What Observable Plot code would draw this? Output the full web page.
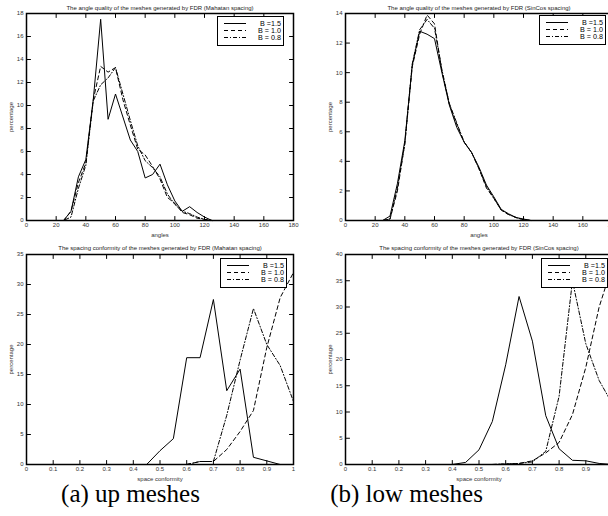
<!DOCTYPE html>
<html>
<head>
<meta charset="utf-8">
<script src="https://cdn.jsdelivr.net/npm/d3@7"></script>
<script src="https://cdn.jsdelivr.net/npm/@observablehq/plot@0.6"></script>
<style>
  html, body { margin: 0; padding: 0; background: white; }
  #wrap { position: relative; width: 608px; height: 516px; overflow: hidden; background: white; font-family: "Liberation Sans", Arial, sans-serif; }
  .panel { position: absolute; }
  .legend { position: absolute; background: white; border: 1.6px solid black; box-sizing: border-box; }
  .caption { position: absolute; font-family: "Liberation Serif", "DejaVu Serif", serif; font-size: 25px; line-height: 22px; white-space: nowrap; transform: translateX(-50%); }
</style>
</head>
<body>
<div id="wrap"></div>
<script>
// ---------- data ----------
const angleX = [20,25,30,35,40,45,50,55,60,65,70,75,80,85,90,95,100,105,110,115,120,125];

// (a) up meshes, angle quality (Mahatan spacing)
const upAngleB15 = [0,0,0.8,3.8,5.3,10.5,17.5,8.8,11.0,9.0,7.0,6.0,3.7,4.0,4.9,3.1,1.7,0.8,1.2,0.7,0.3,0];
const upAngleB10 = [0,0,0.8,3.3,5.0,10.5,13.4,12.9,13.3,10.5,8.3,6.2,5.7,4.7,3.6,2.0,1.5,0.7,0.5,0.2,0.1,0];
const upAngleB08 = [0,0,0.3,2.8,4.8,10.4,11.8,12.4,13.3,11.0,8.7,6.5,5.2,4.6,3.8,2.3,1.4,0.8,0.6,0.3,0.1,0];

// (b) low meshes, angle quality (SinCos spacing)
const lowAngleB15 = [0,0,0.3,2.5,5.4,10.5,12.8,12.6,12.3,10.0,7.8,6.3,5.3,4.6,3.6,2.4,1.6,0.75,0.45,0.2,0.1,0];
const lowAngleB10 = [0,0,0.1,2.0,5.2,10.4,12.6,13.9,13.3,10.1,7.9,6.5,5.3,4.6,3.5,2.2,1.5,0.7,0.4,0.2,0.05,0];
const lowAngleB08 = [0,0,0.1,2.2,5.2,10.6,12.9,13.6,13.0,10.2,7.9,6.6,5.3,4.6,3.5,2.3,1.5,0.7,0.4,0.2,0.05,0];

// (a) up meshes, spacing conformity (Mahatan spacing)
const upConfX15 = [0.45,0.5,0.55,0.6,0.65,0.7,0.75,0.8,0.85,0.9,0.95,1.0];
const upConfB15 = [0,2.3,4.3,17.8,17.8,27.5,12.3,15.9,1.2,0.6,0,0];
const upConfX = [0.6,0.65,0.7,0.75,0.8,0.85,0.9,0.95,1.0];
const upConfB10 = [0,0.5,0.5,2.5,5.5,9.0,19.5,27.8,32];
const upConfB08 = [0,0.5,0.5,8.2,17.4,26,20,16.5,10.5];

// (b) low meshes, spacing conformity (SinCos spacing)
const lowConfX15 = [0.4,0.45,0.5,0.55,0.6,0.65,0.7,0.75,0.8,0.85,0.9,0.95,1.0];
const lowConfB15 = [0,0.4,2.8,8.2,19,32,23.5,9.3,3.0,0.8,0.7,0.2,0];
const lowConfX = [0.55,0.6,0.65,0.7,0.75,0.8,0.85,0.9,0.95,1.0];
const lowConfB10 = [0,0.1,0.2,0.7,2.2,4.2,9.5,18.5,30,38];
const lowConfB08 = [0,0.1,0.2,0.5,2.5,13,35,23,16,11.5];

// ticks
const angleTicks = [0,20,40,60,80,100,120,140,160,180];
const confTicks = [0,0.1,0.2,0.3,0.4,0.5,0.6,0.7,0.8,0.9,1];
const yTicks18 = [0,2,4,6,8,10,12,14,16,18];
const yTicks14 = [0,2,4,6,8,10,12,14];
const yTicks35 = [0,5,10,15,20,25,30,35];
const yTicks40 = [0,5,10,15,20,25,30,35,40];

// texts
const seriesNames = ["B =1.5", "B = 1.0", "B = 0.8"];
const titles = [
  "The angle quality of the meshes generated by FDR (Mahatan spacing)",
  "The angle quality of the meshes generated by FDR (SinCos spacing)",
  "The spacing conformity of the meshes generated by FDR (Mahatan spacing)",
  "The spacing conformity of the meshes generated by FDR (SinCos spacing)"
];
const xLabels = ["angles", "space conformity"];
const yLabel = "percentage";
const captions = ["(a) up meshes", "(b) low meshes"];

// ---------- styles ----------
const dashes = [null, "4,3", "4,2,1,2"];

function zip(xs, ys) { return xs.map((x, i) => ({x, y: ys[i]})); }

// inward tick shapes for Plot.vector
const tickUp = {draw(ctx, l) { ctx.moveTo(0, 0); ctx.lineTo(0, -l); }};
const tickDown = {draw(ctx, l) { ctx.moveTo(0, 0); ctx.lineTo(0, l); }};
const tickRight = {draw(ctx, l) { ctx.moveTo(0, 0); ctx.lineTo(l, 0); }};
const tickLeft = {draw(ctx, l) { ctx.moveTo(0, 0); ctx.lineTo(-l, 0); }};

function panel({series, xDomain, yDomain, xTicks, yTicks, title, xLabel, left, top, height, mTop, mBottom}) {
  const fs = 6;
  const fmt = d => String(d);
  const tk = {length: 4, stroke: "black", strokeWidth: 1, anchor: "start"};
  const marks = [
    ...series.map((s, i) => Plot.line(zip(s.x, s.y), {x: "x", y: "y", stroke: "black", strokeWidth: 1, strokeDasharray: dashes[i]})),
    // inward tick marks on all four sides
    Plot.vector(xTicks, {x: d => d, frameAnchor: "bottom", shape: tickUp, ...tk}),
    Plot.vector(xTicks, {x: d => d, frameAnchor: "top", shape: tickDown, ...tk}),
    Plot.vector(yTicks, {y: d => d, frameAnchor: "left", shape: tickRight, ...tk}),
    Plot.vector(yTicks, {y: d => d, frameAnchor: "right", shape: tickLeft, ...tk}),
    // tick labels and axis labels
    Plot.axisX({ticks: xTicks, tickSize: 0, tickPadding: 2.5, tickFormat: fmt, fontSize: fs, fill: "#333",
      label: xLabel, labelAnchor: "center", labelOffset: 16, labelArrow: "none"}),
    Plot.axisY({ticks: yTicks, tickSize: 0, tickPadding: 3, tickFormat: fmt, fontSize: fs, fill: "#333",
      label: yLabel, labelAnchor: "center", labelOffset: 17.5, labelArrow: "none"}),
    Plot.frame({stroke: "black", strokeWidth: 1.5}),
    Plot.text([title], {frameAnchor: "top", dy: -(mTop - 5.5), text: d => d, fontSize: 6, fill: "#222"})
  ];
  const chart = Plot.plot({
    width: 304, height,
    marginLeft: 26, marginRight: 11, marginTop: mTop, marginBottom: mBottom,
    style: {fontFamily: "'Liberation Sans', Arial, sans-serif", fontSize: "6.2px", background: "transparent", overflow: "visible"},
    x: {domain: xDomain},
    y: {domain: yDomain},
    marks
  });
  chart.classList.add("panel");
  chart.style.left = left + "px";
  chart.style.top = top + "px";
  return chart;
}

function legend(left, top) {
  const div = document.createElement("div");
  div.className = "legend";
  div.style.left = left + "px";
  div.style.top = top + "px";
  div.style.width = "67px";
  div.style.height = "30px";
  const ns = "http://www.w3.org/2000/svg";
  const svg = document.createElementNS(ns, "svg");
  svg.setAttribute("width", 64);
  svg.setAttribute("height", 27);
  svg.style.display = "block";
  seriesNames.forEach((name, i) => {
    const y = 6.5 + i * 7;
    const ln = document.createElementNS(ns, "line");
    ln.setAttribute("x1", 6); ln.setAttribute("x2", 28);
    ln.setAttribute("y1", y); ln.setAttribute("y2", y);
    ln.setAttribute("stroke", "black");
    ln.setAttribute("stroke-width", 1);
    if (dashes[i]) ln.setAttribute("stroke-dasharray", dashes[i]);
    svg.appendChild(ln);
    const t = document.createElementNS(ns, "text");
    t.setAttribute("x", 63); t.setAttribute("y", y + 2.5);
    t.setAttribute("text-anchor", "end");
    t.setAttribute("font-size", 7.2);
    t.setAttribute("font-family", "'Liberation Sans', Arial, sans-serif");
    t.textContent = name;
    svg.appendChild(t);
  });
  div.appendChild(svg);
  return div;
}

const wrap = document.getElementById("wrap");

wrap.appendChild(panel({
  series: [{x: angleX, y: upAngleB15}, {x: angleX, y: upAngleB10}, {x: angleX, y: upAngleB08}],
  xDomain: [0, 180], yDomain: [0, 18], xTicks: angleTicks, yTicks: yTicks18,
  title: titles[0], xLabel: xLabels[0], left: 0, top: 0, height: 240, mTop: 13, mBottom: 20
}));
wrap.appendChild(panel({
  series: [{x: angleX, y: lowAngleB15}, {x: angleX, y: lowAngleB10}, {x: angleX, y: lowAngleB08}],
  xDomain: [0, 180], yDomain: [0, 14], xTicks: angleTicks, yTicks: yTicks14,
  title: titles[1], xLabel: xLabels[0], left: 319, top: 0, height: 240, mTop: 13, mBottom: 20
}));
wrap.appendChild(panel({
  series: [{x: upConfX15, y: upConfB15}, {x: upConfX, y: upConfB10}, {x: upConfX, y: upConfB08}],
  xDomain: [0, 1], yDomain: [0, 35], xTicks: confTicks, yTicks: yTicks35,
  title: titles[2], xLabel: xLabels[1], left: 0, top: 240, height: 250, mTop: 14, mBottom: 26
}));
wrap.appendChild(panel({
  series: [{x: lowConfX15, y: lowConfB15}, {x: lowConfX, y: lowConfB10}, {x: lowConfX, y: lowConfB08}],
  xDomain: [0, 1], yDomain: [0, 40], xTicks: confTicks, yTicks: yTicks40,
  title: titles[3], xLabel: xLabels[1], left: 319, top: 240, height: 250, mTop: 14, mBottom: 26
}));

wrap.appendChild(legend(217, 16));
wrap.appendChild(legend(539, 15));
wrap.appendChild(legend(220, 258));
wrap.appendChild(legend(541, 258));

captions.forEach((c, i) => {
  const d = document.createElement("div");
  d.className = "caption";
  d.textContent = c;
  d.style.left = (i === 0 ? 130.5 : 406.5) + "px";
  d.style.top = "483px";
  wrap.appendChild(d);
});
</script>
</body>
</html>
